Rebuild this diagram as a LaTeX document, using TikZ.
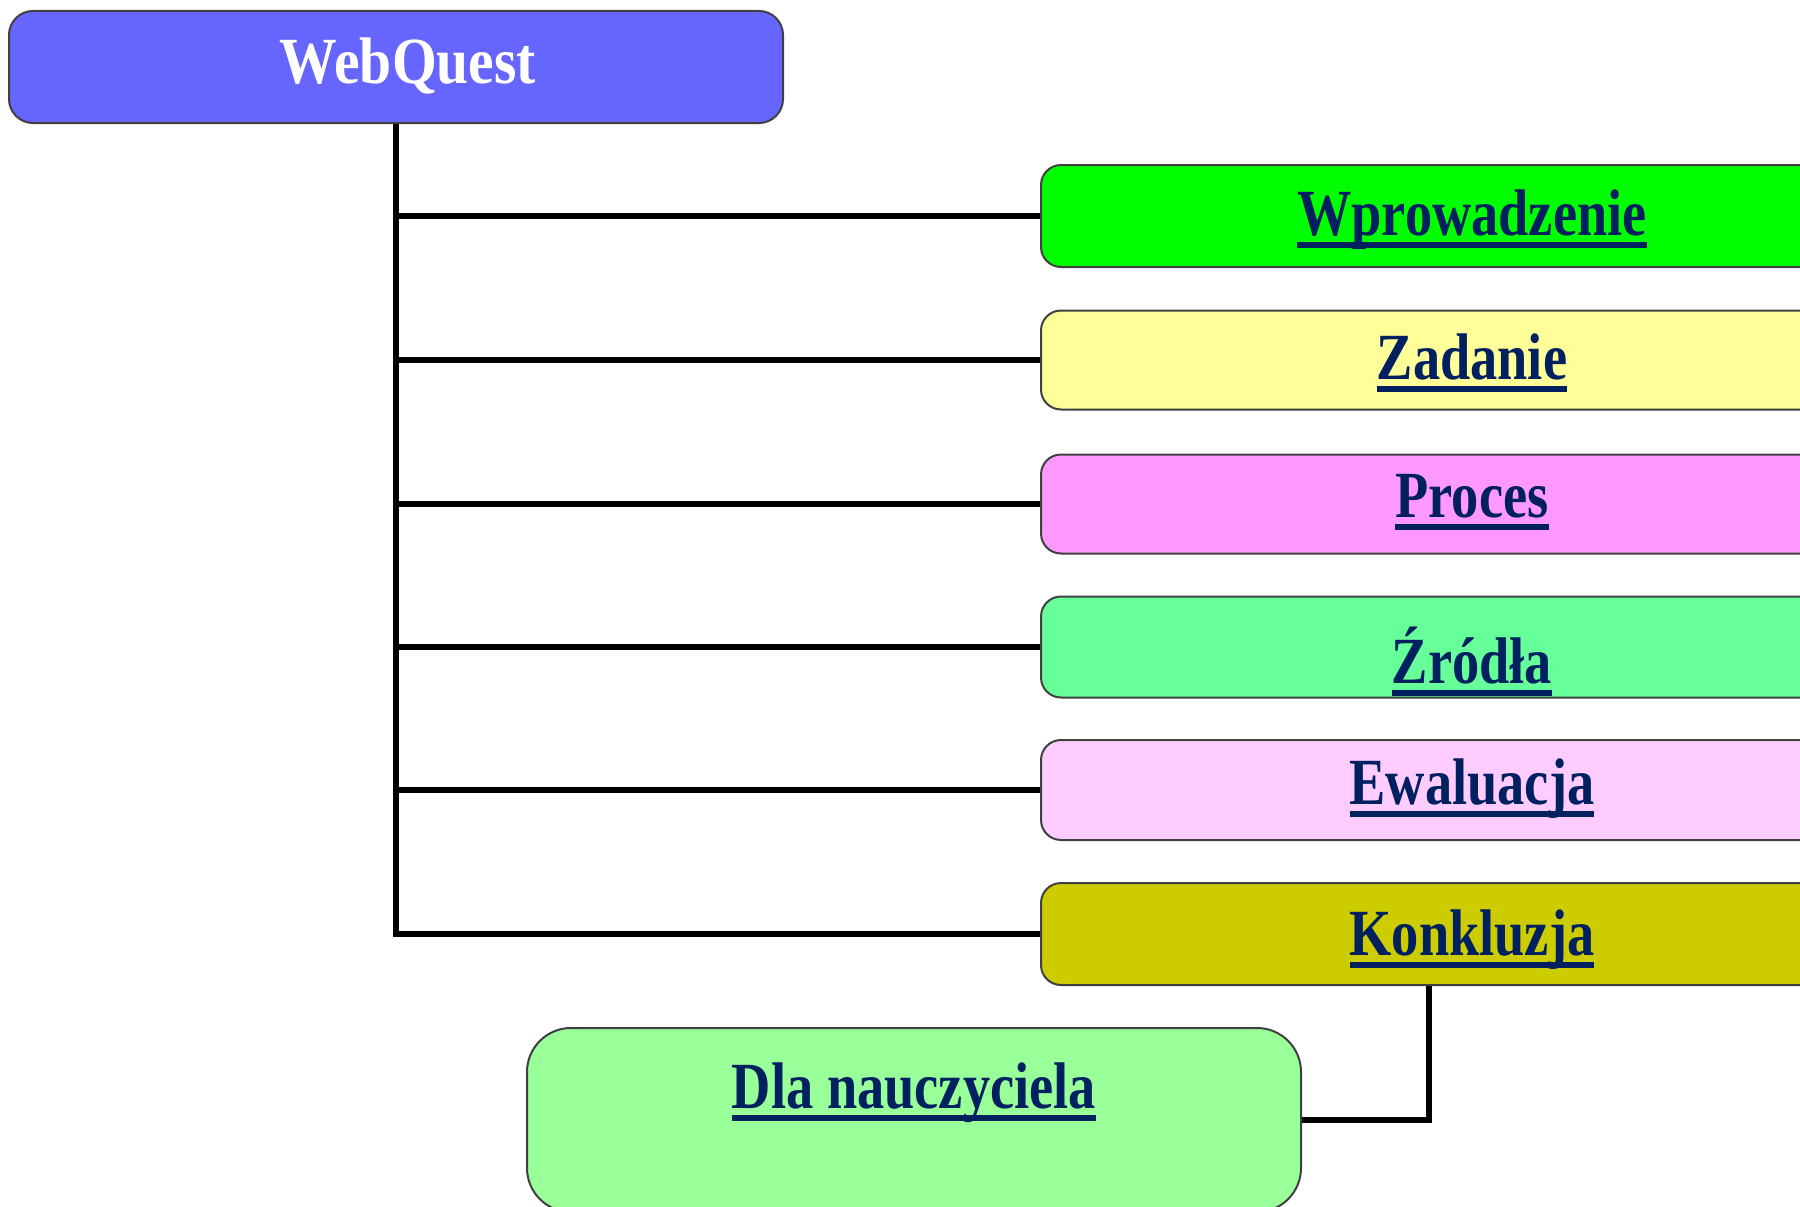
\documentclass[tikz,border=0pt]{standalone}
\usepackage{fontspec}
\setmainfont{Liberation Serif}
\usepackage{graphicx}
\definecolor{navy}{RGB}{0,32,96}
\definecolor{boxborder}{RGB}{64,64,64}
\definecolor{cWQ}{RGB}{102,102,255}
\definecolor{cWpr}{RGB}{0,255,0}
\definecolor{cZad}{RGB}{255,255,153}
\definecolor{cPro}{RGB}{255,153,255}
\definecolor{cZro}{RGB}{102,255,153}
\definecolor{cEwa}{RGB}{255,204,255}
\definecolor{cKon}{RGB}{204,204,0}
\definecolor{cDla}{RGB}{153,255,153}
\newcommand\ulbl[1]{\scalebox{0.85}[1.03]{\setbox0\hbox{#1}\rlap{\rule[-0.19em]{\wd0}{0.085em}}\box0}}
\begin{document}
\begin{tikzpicture}[x=1pt,y=-1pt,
  box/.style={draw=boxborder, line width=2, rounded corners=20, inner sep=0, minimum width=862, minimum height=100},
  lbl/.style={anchor=base, inner sep=0, text=navy, font=\fontsize{64}{70}\selectfont\bfseries},
  conn/.style={line width=5.5, draw=black}]
\useasboundingbox (0,0) rectangle (1800,1207);
\clip (0,0) rectangle (1800,1207);
% boxes
\node[box, fill=cWQ, minimum width=774, minimum height=112, rounded corners=24] (wq) at (396,67) {};
\node[box, fill=cWpr, minimum height=102] (b1) at (1472,216) {};
\node[box, fill=cZad, minimum height=99] (b2) at (1472,360) {};
\node[box, fill=cPro, minimum height=99] (b3) at (1472,504) {};
\node[box, fill=cZro, minimum height=101] (b4) at (1472,647) {};
\node[box, fill=cEwa, minimum height=100] (b5) at (1472,790) {};
\node[box, fill=cKon, minimum height=102] (b6) at (1472,934) {};
\node[box, fill=cDla, minimum width=774, minimum height=184, rounded corners=44] (dla) at (914,1120) {};
% connectors
\draw[conn] (wq.south) |- (b6.west);
\foreach \b in {b1,b2,b3,b4,b5}{
  \draw[conn] (wq.south |- \b.west) -- (\b.west);
}
\coordinate (kdrop) at (1429,985);
\draw[conn] (b6.south -| kdrop) |- (dla.east);
% labels
\node[lbl, text=white] (twq) at (408,84) {\scalebox{0.9}[1.03]{WebQuest}};
\node[lbl] (t1) at (1472,235) {\ulbl{Wprowadzenie}};
\node[lbl] (t2) at (1472,379) {\ulbl{Zadanie}};
\node[lbl] (t3) at (1472,517) {\ulbl{Proces}};
\node[lbl] (t4) at (1472,683) {\ulbl{Źródła}};
\node[lbl] (t5) at (1472,804) {\ulbl{Ewaluacja}};
\node[lbl] (t6) at (1472,955) {\ulbl{Konkluzja}};
\node[lbl] (t7) at (914,1108) {\ulbl{Dla nauczyciela}};
\end{tikzpicture}
\end{document}
